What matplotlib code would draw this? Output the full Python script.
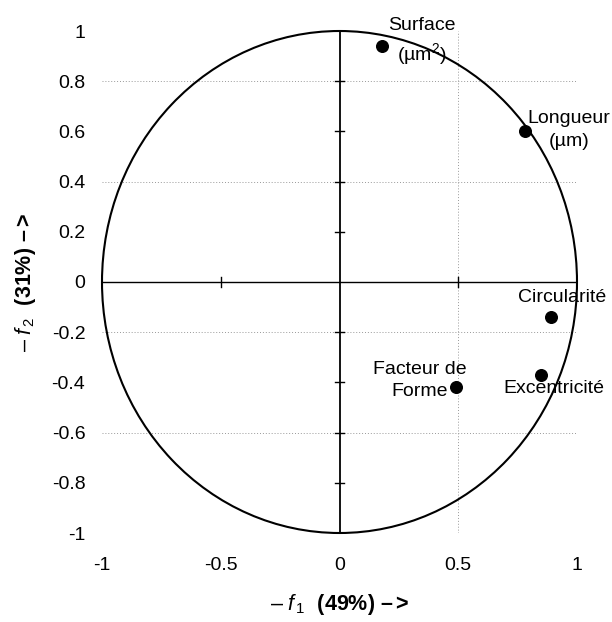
import numpy as np
import matplotlib.pyplot as plt
from matplotlib.patches import Circle

plt.rcParams['font.family'] = ['Liberation Sans', 'DejaVu Sans']
plt.rcParams['mathtext.fontset'] = 'custom'
plt.rcParams['mathtext.rm'] = 'Liberation Sans'
plt.rcParams['mathtext.it'] = 'Liberation Sans:italic'
plt.rcParams['mathtext.bf'] = 'Liberation Sans:bold'

# variables on the correlation circle
names = ['Surface\n(µm$^2$)', 'Longueur\n(µm)', 'Circularité', 'Excentricité', 'Facteur de\nForme']
f1 = [0.18, 0.78, 0.89, 0.85, 0.49]
f2 = [0.94, 0.60, -0.14, -0.37, -0.42]
label_offsets = [(4, 3), (2, 1), (8, 14), (9, -10), (-26, 5)]
label_ha = ['left', 'left', 'center', 'center', 'center']

ticks = [-1, -0.5, 0, 0.5, 1]
yticks = [-1, -0.8, -0.6, -0.4, -0.2, 0, 0.2, 0.4, 0.6, 0.8, 1]
grid_y = [0.8, 0.4, -0.2, -0.6]
grid_x = [0.5]

fig = plt.figure(figsize=(6.12, 6.22), dpi=100)
ax = fig.add_axes([102 / 612, 1 - 533 / 622, 475 / 612, 502 / 622])
ax.set_xlim(-1, 1)
ax.set_ylim(-1, 1)

for g in grid_y:
    ax.axhline(g, color='#999999', lw=0.7, ls=(0, (1, 2)), zorder=0)
for g in grid_x:
    ax.axvline(g, color='#999999', lw=0.7, ls=(0, (1, 2)), zorder=0)

ax.add_patch(Circle((0, 0), 1, fill=False, ec='black', lw=1.5, clip_on=False))
ax.plot([-1, 1], [0, 0], color='black', lw=1.0)
ax.plot([0, 0], [-1, 1], color='black', lw=1.3)

# small cross ticks on the inner axes
for t in [-0.5, 0.5]:
    ax.plot([t, t], [-0.02, 0.02], color='black', lw=1.0)
for t in yticks:
    if t not in (-1, 0, 1):
        ax.plot([-0.02, 0.02], [t, t], color='black', lw=1.0)

ax.scatter(f1, f2, s=70, color='black', zorder=5)
for x, y, n, off, ha in zip(f1, f2, names, label_offsets, label_ha):
    ax.annotate(n, (x, y), xytext=off, textcoords='offset points',
                ha=ha, va='center', multialignment='center',
                fontsize=14, linespacing=1.4)

for s in ax.spines.values():
    s.set_visible(False)
ax.set_xticks(ticks)
ax.set_xticklabels(['-1', '-0.5', '0', '0.5', '1'])
ax.set_yticks(yticks)
ax.set_yticklabels(['-1', '-0.8', '-0.6', '-0.4', '-0.2', '0', '0.2', '0.4', '0.6', '0.8', '1'])
ax.tick_params(length=0, labelsize=14, pad=12)
ax.tick_params(axis='x', pad=17)

ax.set_xlabel('– $\\mathit{f}_{\\,1}$  $\\mathbf{(49\\%)\\ –{>}}$', fontsize=15.5, labelpad=13)
ax.set_ylabel('– $\\mathit{f}_{\\,2}$  $\\mathbf{(31\\%)\\ –{>}}$', fontsize=15.5, labelpad=10)

fig.savefig('out.png', dpi=100)
